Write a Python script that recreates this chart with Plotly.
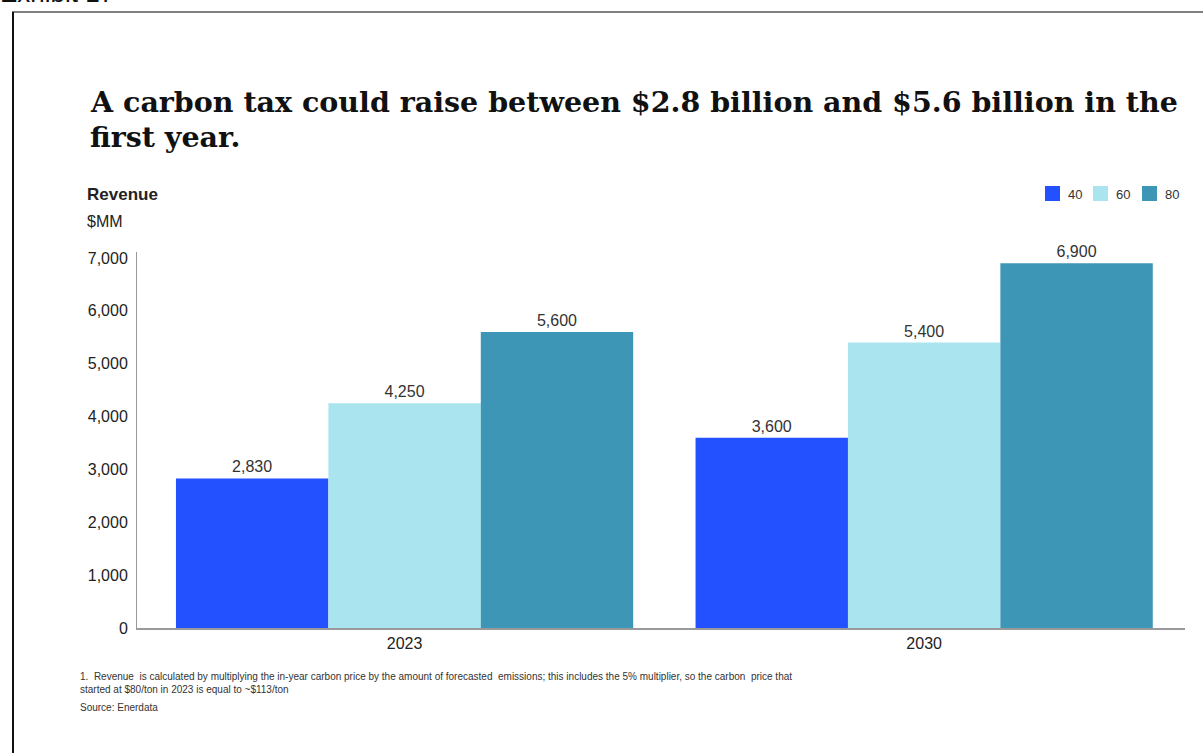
import plotly.graph_objects as go

# Revenue by carbon price ($/ton) and year, $MM
years = ["2023", "2030"]
price_levels = ["40", "60", "80"]
revenue_40 = [2830, 3600]
revenue_60 = [4250, 5400]
revenue_80 = [5600, 6900]
bar_colors = ["#2451FF", "#AAE5EF", "#3E96B6"]
y_ticks = [0, 1000, 2000, 3000, 4000, 5000, 6000, 7000]

W, H = 1203, 753
L, R, T, B = 137, 18, 252, 125
plot_w = W - L - R
plot_h = H - T - B


def px_x(x):
    return (x - L) / plot_w


def px_y(y):
    return (H - B - y) / plot_h


fig = go.Figure()
for name, vals, col in zip(price_levels, [revenue_40, revenue_60, revenue_80], bar_colors):
    fig.add_trace(go.Bar(
        x=years, y=vals, name=name, marker=dict(color=col, line=dict(width=0)),
        text=[f"{v:,}" for v in vals], textposition="outside", cliponaxis=False,
        textfont=dict(family="Liberation Sans, Arial", size=16, color="#333333"),
    ))

fig.update_layout(
    width=W, height=H, margin=dict(l=L, r=R, t=T, b=B, autoexpand=False),
    paper_bgcolor="white", plot_bgcolor="white",
    barmode="group", bargap=0.12, bargroupgap=0,
    font=dict(family="Liberation Sans, Arial", size=16, color="#222222"),
    showlegend=False,
    xaxis=dict(type="category", range=[-0.515, 1.502], showline=True, linecolor="#999999",
               linewidth=2, ticks="", showgrid=False, automargin=False,
               tickfont=dict(size=16, color="#222222")),
    yaxis=dict(range=[0, 7113], tickvals=y_ticks, tickformat=",", showline=True,
               linecolor="#999999", linewidth=1, showgrid=False, zeroline=False, ticks="",
               automargin=False, ticklabelstandoff=5, tickfont=dict(size=16, color="#222222")),
)

annotations = [
    dict(text="Exhibit 17", x=px_x(-2), y=px_y(10), xanchor="left", yanchor="bottom",
         font=dict(size=26, color="#111111")),
    dict(text="<b>A carbon tax could raise between $2.8 billion and $5.6 billion in the</b>",
         x=px_x(88), y=px_y(102), xanchor="left", yanchor="middle", align="left",
         font=dict(family="DejaVu Serif", size=28.5, color="#111111")),
    dict(text="<b>first year.</b>",
         x=px_x(88), y=px_y(137), xanchor="left", yanchor="middle", align="left",
         font=dict(family="DejaVu Serif", size=28.5, color="#111111")),
    dict(text="<b>Revenue</b>", x=px_x(85), y=px_y(195), xanchor="left", yanchor="middle",
         font=dict(size=17, color="#222222")),
    dict(text="$MM", x=px_x(85), y=px_y(221), xanchor="left", yanchor="middle",
         font=dict(size=16, color="#222222")),
    dict(text="1.  Revenue  is calculated by multiplying the in-year carbon price by the amount of forecasted  emissions; this includes the 5% multiplier, so the carbon  price that<br>started at $80/ton in 2023 is equal to ~$113/ton",
         x=px_x(78), y=px_y(669), xanchor="left", yanchor="top", align="left",
         font=dict(size=10, color="#333333")),
    dict(text="Source: Enerdata", x=px_x(78), y=px_y(700), xanchor="left", yanchor="top",
         font=dict(size=10, color="#333333")),
]

# Legend: colour swatches with price labels
legend_left = [1045, 1093, 1142]
for lx, name, col in zip(legend_left, price_levels, bar_colors):
    fig.add_shape(type="rect", xref="paper", yref="paper",
                  x0=px_x(lx), x1=px_x(lx + 15), y0=px_y(186), y1=px_y(201),
                  fillcolor=col, line=dict(width=0))
    annotations.append(dict(text=name, x=px_x(lx + 21), y=px_y(194), xanchor="left",
                            yanchor="middle", font=dict(size=13, color="#333333")))

for a in annotations:
    a.update(xref="paper", yref="paper", showarrow=False)
    fig.add_annotation(**a)

# Exhibit frame
fig.add_shape(type="line", xref="paper", yref="paper", x0=px_x(12), x1=px_x(1203),
              y0=px_y(12), y1=px_y(12), line=dict(color="#808080", width=2))
fig.add_shape(type="line", xref="paper", yref="paper", x0=px_x(13), x1=px_x(13),
              y0=px_y(12), y1=px_y(753), line=dict(color="#111111", width=2))

fig.write_html("out.html")
